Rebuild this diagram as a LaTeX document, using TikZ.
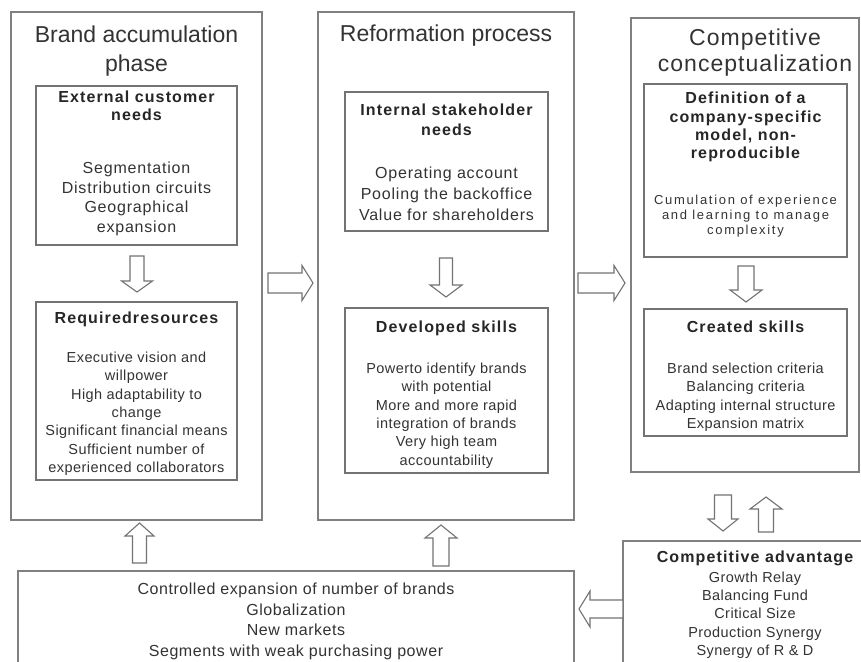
\documentclass[tikz,border=0pt]{standalone}
\usepackage{fontspec}
\setmainfont{Liberation Sans}
\newfontfamily\titlesans{Liberation Sans}
\newfontfamily\titlewide[LetterSpace=4.5]{Liberation Sans}
\newfontfamily\headsans[LetterSpace=7]{Liberation Sans}
\newfontfamily\bodysans[LetterSpace=5]{Liberation Sans}
\newfontfamily\smallsans[LetterSpace=3]{Liberation Sans}
\newfontfamily\listsans[LetterSpace=3.5]{Liberation Sans}
\newfontfamily\tinysans[LetterSpace=13]{Liberation Sans}
\usetikzlibrary{calc}

% hollow block arrow from tail #1 to tip #2:
% #3 shaft half-width, #4 head half-width, #5 head length (pt)
\newcommand\hollowarrow[5]{%
  \draw[blockarrow] let \p1=(#1), \p2=(#2),
      \n1={atan2(\y2-\y1,\x2-\x1)}, \n2={veclen(\x2-\x1,\y2-\y1)} in
    ($(\p1)+(\n1+90:#3pt)$)
 -- ($(\p1)+(\n1:\n2-#5pt)+(\n1+90:#3pt)$)
 -- ($(\p1)+(\n1:\n2-#5pt)+(\n1+90:#4pt)$)
 -- (\p2)
 -- ($(\p1)+(\n1:\n2-#5pt)+(\n1-90:#4pt)$)
 -- ($(\p1)+(\n1:\n2-#5pt)+(\n1-90:#3pt)$)
 -- ($(\p1)+(\n1-90:#3pt)$) -- cycle;}

\tikzset{
  panel/.style={draw=black!50, line width=1.3pt, inner sep=0pt, fill=white},
  subbox/.style={draw=black!55, line width=1.2pt, inner sep=0pt},
  blockarrow/.style={draw=black!55, line width=1.1pt, fill=white, line join=miter},
  txt/.style={anchor=north, inner sep=0pt, align=center, text=black!80},
  ttl/.style={txt, font=\titlesans\fontsize{23}{29}\selectfont},
  ttlwide/.style={txt, font=\titlewide\fontsize{23}{26}\selectfont},
  hdr/.style={txt, text=black!85, font=\headsans\bfseries\fontsize{16}{#1}\selectfont},
  hdr/.default=18,
  bodyA/.style={txt, font=\bodysans\fontsize{16}{#1}\selectfont},
  bodyA/.default=19.5,
  bodyB/.style={txt, font=\smallsans\fontsize{14.5}{#1}\selectfont},
  bodyB/.default=18.4,
  bodyC/.style={txt, font=\tinysans\fontsize{13}{15}\selectfont},
  bodyD/.style={txt, font=\listsans\fontsize{16}{20.5}\selectfont},
}

\begin{document}
\begin{tikzpicture}[x=1pt, y=-1pt]
\useasboundingbox (0,0) rectangle (861,661);
\clip (0,0) rectangle (861,661);
\fill[white] (0,0) rectangle (861,661);

% ---- panels ----
\node[panel, minimum width=251pt, minimum height=508pt] (oL) at (136.5,266) {};
\node[panel, minimum width=256pt, minimum height=508pt] (oM) at (446,266) {};
\node[panel, minimum width=228pt, minimum height=454pt] (oR) at (745,245) {};
\node[panel, minimum width=277pt, minimum height=159pt] (oCA) at (761.5,620.5) {};
\node[panel, minimum width=556pt, minimum height=129pt] (oB) at (296,635.5) {};

% ---- inner boxes ----
\node[subbox, minimum width=201pt, minimum height=159pt] (iL1) at (136.5,165.5) {};
\node[subbox, minimum width=201pt, minimum height=178pt] (iL2) at (136.5,391) {};
\node[subbox, minimum width=203pt, minimum height=139pt] (iM1) at (446.5,161.5) {};
\node[subbox, minimum width=203pt, minimum height=165pt] (iM2) at (446.5,390.5) {};
\node[subbox, minimum width=203pt, minimum height=173pt] (iR1) at (745.5,170.5) {};
\node[subbox, minimum width=203pt, minimum height=127pt] (iR2) at (745.5,372.5) {};

% ---- brand accumulation phase ----
\node[ttl] (tL) at (136.5,25.5) {Brand accumulation\\phase};
\node[hdr] (hL1) at (136.5,91) {External customer\\needs};
\node[bodyA] (bL1) at (136.5,162) {Segmentation\\Distribution circuits\\Geographical\\expansion};
\node[hdr] (hL2) at (136.5,312) {Requiredresources};
\node[bodyB] (bL2) at (136.5,351.6) {Executive vision and\\willpower\\High adaptability to\\change\\Significant financial means\\Sufficient number of\\experienced collaborators};

% ---- reformation process ----
\node[ttl] (tM) at (446,24.5) {Reformation process};
\node[hdr=20] (hM1) at (446.5,104) {Internal stakeholder\\needs};
\node[bodyA=21] (bM1) at (446.5,167) {Operating account\\Pooling the backoffice\\Value for shareholders};
\node[hdr] (hM2) at (446.5,321) {Developed skills};
\node[bodyB] (bM2) at (446.5,362.6) {Powerto identify brands\\with potential\\More and more rapid\\integration of brands\\Very high team\\accountability};

% ---- competitive conceptualization ----
\node[ttlwide] (tR) at (755,28.5) {Competitive\\conceptualization};
\node[hdr=18.3] (hR1) at (745.5,92) {Definition of a\\company-specific\\model, non-\\reproducible};
\node[bodyC] (bR1) at (745.5,195) {Cumulation of experience\\and learning to manage\\complexity};
\node[hdr] (hR2) at (745.5,321) {Created skills};
\node[bodyB] (bR2) at (745.5,362.6) {Brand selection criteria\\Balancing criteria\\Adapting internal structure\\Expansion matrix};

% ---- competitive advantage ----
\node[hdr] (hCA) at (755,551) {Competitive advantage};
\node[bodyB=18.3] (bCA) at (755,571.6) {Growth Relay\\Balancing Fund\\Critical Size\\Production Synergy\\Synergy of R \& D};

% ---- bottom outcomes ----
\node[bodyD] (bB) at (296,583) {Controlled expansion of number of brands\\Globalization\\New markets\\Segments with weak purchasing power};

% ---- arrow end points ----
\coordinate (lmA) at (268,283);   \coordinate (lmB) at (313,283);
\coordinate (mrA) at (578,283);   \coordinate (mrB) at (625,283);
\coordinate (lA)  at (137,256);   \coordinate (lB)  at (137,292);
\coordinate (mA)  at (446,258);   \coordinate (mB)  at (446,297);
\coordinate (rA)  at (746,266);   \coordinate (rB)  at (746,302);
\coordinate (cdA) at (723,495);   \coordinate (cdB) at (723,531);
\coordinate (cuA) at (766,532);   \coordinate (cuB) at (766,497);
\coordinate (luA) at (139.5,563); \coordinate (luB) at (139.5,523);
\coordinate (muA) at (441,566);   \coordinate (muB) at (441,525);
\coordinate (caA) at (623,609);   \coordinate (caB) at (579,609);

\hollowarrow{lmA}{lmB}{10}{17.5}{11}
\hollowarrow{mrA}{mrB}{10}{17.5}{11}
\hollowarrow{lA}{lB}{7}{15.5}{11}
\hollowarrow{mA}{mB}{6.5}{16}{12}
\hollowarrow{rA}{rB}{8}{16}{12}
\hollowarrow{cdA}{cdB}{8.5}{15}{12}
\hollowarrow{cuA}{cuB}{7.5}{16}{12}
\hollowarrow{luA}{luB}{7}{14.5}{13}
\hollowarrow{muA}{muB}{8}{16}{13}
\hollowarrow{caA}{caB}{9}{18}{11}
\end{tikzpicture}
\end{document}
